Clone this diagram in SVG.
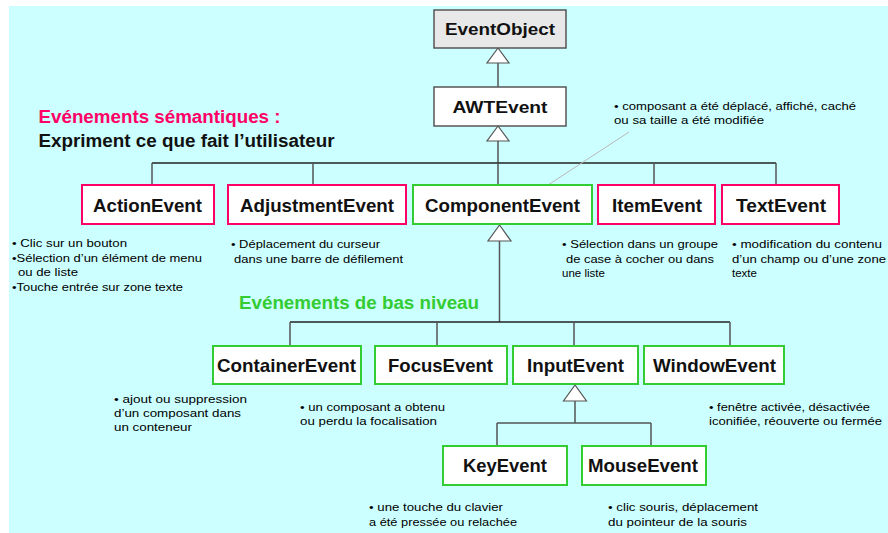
<svg xmlns="http://www.w3.org/2000/svg" width="888" height="533" viewBox="0 0 888 533">
<style>
.bg{fill:#ccffff}
.box{fill:#ffffff;stroke-width:2}
.root{fill:#e8e8e8;stroke:#555555;stroke-width:1.5}
.top{fill:#ffffff;stroke:#555555;stroke-width:1.5}
.sem{stroke:#ff0066}
.low{stroke:#33cc33}
.lbl{font-family:"Liberation Sans",Arial,sans-serif;font-weight:bold;font-size:18.5px;fill:#111111;text-anchor:middle}
.lbl2{font-family:"Liberation Sans",Arial,sans-serif;font-weight:bold;font-size:17px;fill:#111111;text-anchor:middle}
.note{font-family:"Liberation Sans",Arial,sans-serif;font-size:11.5px;fill:#000000}
.hdr{font-family:"Liberation Sans",Arial,sans-serif;font-weight:bold;font-size:18px}
.ln{stroke:#555555;stroke-width:1.5;fill:none}
.hl{stroke:#222222;stroke-width:1.5;fill:none}
.tri{fill:#ffffff;stroke:#555555;stroke-width:1.2}
</style>
<rect class="bg" x="9" y="6" width="879" height="527"/>

<g id="connectors">
  <line class="ln" x1="498" y1="63" x2="498" y2="87"/>
  <polygon class="tri" points="498,48 487,63 509,63"/>
  <line class="ln" x1="498" y1="141" x2="498" y2="163"/>
  <polygon class="tri" points="498,126 487,141 509,141"/>
  <line class="hl" x1="152" y1="163" x2="776" y2="163"/>
  <line class="ln" x1="152" y1="163" x2="152" y2="185"/>
  <line class="ln" x1="313" y1="163" x2="313" y2="185"/>
  <line class="ln" x1="498" y1="163" x2="498" y2="185"/>
  <line class="ln" x1="654" y1="163" x2="654" y2="185"/>
  <line class="ln" x1="776" y1="163" x2="776" y2="185"/>
  <line class="ln" x1="499.5" y1="241" x2="499.5" y2="322"/>
  <polygon class="tri" points="499.5,225 488,241 511,241"/>
  <line class="hl" x1="290" y1="322" x2="730" y2="322"/>
  <line class="ln" x1="290" y1="322" x2="290" y2="346"/>
  <line class="ln" x1="437" y1="322" x2="437" y2="346"/>
  <line class="ln" x1="574" y1="322" x2="574" y2="346"/>
  <line class="ln" x1="730" y1="322" x2="730" y2="346"/>
  <line class="ln" x1="575" y1="401" x2="575" y2="423"/>
  <polygon class="tri" points="575,385 563.5,401 586.5,401"/>
  <line class="ln" x1="497" y1="423" x2="651" y2="423"/>
  <line class="ln" x1="497" y1="423" x2="497" y2="446"/>
  <line class="ln" x1="651" y1="423" x2="651" y2="446"/>
  <line x1="629" y1="132" x2="545" y2="187" stroke="#b8b8b8" stroke-width="1"/>
</g>

<g id="EventObject">
  <rect class="root" x="434" y="10" width="132" height="38"/>
  <text class="lbl2" x="500" y="35" textLength="110" lengthAdjust="spacingAndGlyphs">EventObject</text>
</g>
<g id="AWTEvent">
  <rect class="top" x="434" y="87" width="132" height="39"/>
  <text class="lbl2" x="500" y="113" textLength="95" lengthAdjust="spacingAndGlyphs">AWTEvent</text>
</g>

<g id="ActionEvent">
  <rect class="box sem" x="82" y="185" width="132" height="39"/>
  <text class="lbl" x="147.5" y="212" textLength="109" lengthAdjust="spacingAndGlyphs">ActionEvent</text>
</g>
<g id="AdjustmentEvent">
  <rect class="box sem" x="228" y="185" width="178" height="39"/>
  <text class="lbl" x="317" y="212" textLength="154" lengthAdjust="spacingAndGlyphs">AdjustmentEvent</text>
</g>
<g id="ComponentEvent">
  <rect class="box low" x="413" y="185" width="179" height="39"/>
  <text class="lbl" x="502.5" y="212" textLength="155" lengthAdjust="spacingAndGlyphs">ComponentEvent</text>
</g>
<g id="ItemEvent">
  <rect class="box sem" x="598" y="185" width="117" height="39"/>
  <text class="lbl" x="657" y="212" textLength="90" lengthAdjust="spacingAndGlyphs">ItemEvent</text>
</g>
<g id="TextEvent">
  <rect class="box sem" x="722" y="185" width="117" height="39"/>
  <text class="lbl" x="781" y="212" textLength="90" lengthAdjust="spacingAndGlyphs">TextEvent</text>
</g>

<g id="ContainerEvent">
  <rect class="box low" x="213" y="346" width="148" height="38"/>
  <text class="lbl" x="286.5" y="372" textLength="139" lengthAdjust="spacingAndGlyphs">ContainerEvent</text>
</g>
<g id="FocusEvent">
  <rect class="box low" x="375" y="346" width="132" height="38"/>
  <text class="lbl" x="440.5" y="372" textLength="105" lengthAdjust="spacingAndGlyphs">FocusEvent</text>
</g>
<g id="InputEvent">
  <rect class="box low" x="513" y="346" width="125" height="38"/>
  <text class="lbl" x="575.5" y="372" textLength="97" lengthAdjust="spacingAndGlyphs">InputEvent</text>
</g>
<g id="WindowEvent">
  <rect class="box low" x="644" y="346" width="140" height="38"/>
  <text class="lbl" x="714.5" y="372" textLength="123" lengthAdjust="spacingAndGlyphs">WindowEvent</text>
</g>
<g id="KeyEvent">
  <rect class="box low" x="443" y="446" width="124" height="39"/>
  <text class="lbl" x="505" y="472" textLength="84" lengthAdjust="spacingAndGlyphs">KeyEvent</text>
</g>
<g id="MouseEvent">
  <rect class="box low" x="582" y="446" width="124" height="39"/>
  <text class="lbl" x="643" y="472" textLength="110" lengthAdjust="spacingAndGlyphs">MouseEvent</text>
</g>

<g id="headers">
  <text class="hdr" x="38.5" y="123" fill="#ff0066" textLength="242" lengthAdjust="spacingAndGlyphs">Evénements sémantiques :</text>
  <text class="hdr" x="38.5" y="147" fill="#111111" textLength="296" lengthAdjust="spacingAndGlyphs">Expriment ce que fait l’utilisateur</text>
  <text class="hdr" x="239" y="309" fill="#33cc33" textLength="240" lengthAdjust="spacingAndGlyphs">Evénements de bas niveau</text>
</g>

<g id="notes">
  <text class="note" x="614" y="110" textLength="242" lengthAdjust="spacingAndGlyphs">• composant a été déplacé, affiché, caché</text>
  <text class="note" x="614" y="124" textLength="150" lengthAdjust="spacingAndGlyphs">ou sa taille a été modifiée</text>
  <text class="note" x="12" y="247" textLength="115" lengthAdjust="spacingAndGlyphs">• Clic sur un bouton</text>
  <text class="note" x="12" y="261.5" textLength="190" lengthAdjust="spacingAndGlyphs">•Sélection d’un élément de menu</text>
  <text class="note" x="18" y="275.5" textLength="60" lengthAdjust="spacingAndGlyphs">ou de liste</text>
  <text class="note" x="12" y="290.5" textLength="171" lengthAdjust="spacingAndGlyphs">•Touche entrée sur zone texte</text>
  <text class="note" x="231" y="248" textLength="149" lengthAdjust="spacingAndGlyphs">• Déplacement du curseur</text>
  <text class="note" x="234" y="262.5" textLength="169" lengthAdjust="spacingAndGlyphs">dans une barre de défilement</text>
  <text class="note" x="562" y="248" textLength="156" lengthAdjust="spacingAndGlyphs">• Sélection dans un groupe</text>
  <text class="note" x="566" y="262.5" textLength="148" lengthAdjust="spacingAndGlyphs">de case à cocher ou dans</text>
  <text class="note" x="562" y="276.5">une liste</text>
  <text class="note" x="732" y="248" textLength="150" lengthAdjust="spacingAndGlyphs">• modification du contenu</text>
  <text class="note" x="732" y="262.5" textLength="154" lengthAdjust="spacingAndGlyphs">d’un champ ou d’une zone</text>
  <text class="note" x="732" y="276.5">texte</text>
  <text class="note" x="114" y="402.5" textLength="133" lengthAdjust="spacingAndGlyphs">• ajout ou suppression</text>
  <text class="note" x="114" y="417" textLength="127" lengthAdjust="spacingAndGlyphs">d’un composant dans</text>
  <text class="note" x="114" y="430.5" textLength="78" lengthAdjust="spacingAndGlyphs">un conteneur</text>
  <text class="note" x="300" y="410.5" textLength="145" lengthAdjust="spacingAndGlyphs">• un composant a obtenu</text>
  <text class="note" x="300" y="425" textLength="137" lengthAdjust="spacingAndGlyphs">ou perdu la focalisation</text>
  <text class="note" x="709" y="410.5" textLength="161" lengthAdjust="spacingAndGlyphs">• fenêtre activée, désactivée</text>
  <text class="note" x="709" y="425" textLength="173" lengthAdjust="spacingAndGlyphs">iconifiée, réouverte ou fermée</text>
  <text class="note" x="369" y="511" textLength="134" lengthAdjust="spacingAndGlyphs">• une touche du clavier</text>
  <text class="note" x="369" y="525.5" textLength="148" lengthAdjust="spacingAndGlyphs">a été pressée ou relachée</text>
  <text class="note" x="608" y="511" textLength="150" lengthAdjust="spacingAndGlyphs">• clic souris, déplacement</text>
  <text class="note" x="608" y="525.5" textLength="139" lengthAdjust="spacingAndGlyphs">du pointeur de la souris</text>
</g>
</svg>
